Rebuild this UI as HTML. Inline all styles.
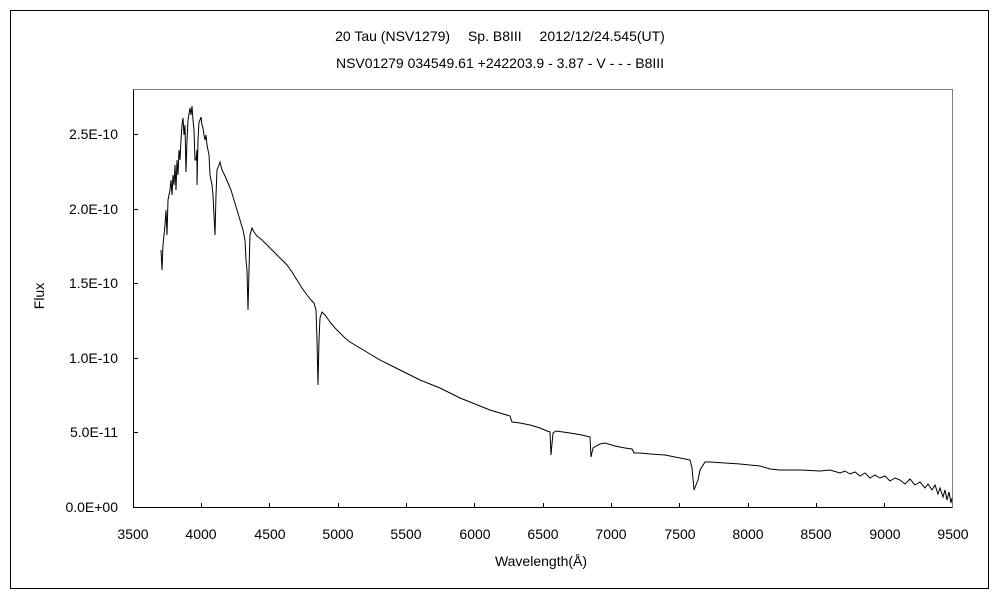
<!DOCTYPE html>
<html><head><meta charset="utf-8"><style>
html,body{margin:0;padding:0;background:#fff;}
svg{display:block;}
text{font-family:"Liberation Sans","Noto Sans CJK JP",sans-serif;font-size:14px;fill:#000;}
</style></head><body>
<svg width="1000" height="600" viewBox="0 0 1000 600">
<rect x="10.5" y="10.5" width="978" height="578" fill="none" stroke="#000" stroke-width="1"/>
<polyline points="133.5,89.5 952.5,89.5 952.5,507.5" fill="none" stroke="#808080" stroke-width="1"/>
<polyline points="133.5,89.5 133.5,507.5 952.5,507.5" fill="none" stroke="#000" stroke-width="1"/>
<g stroke="#000" stroke-width="1">
<line x1="133" y1="134.5" x2="138" y2="134.5"/>
<line x1="133" y1="209.5" x2="138" y2="209.5"/>
<line x1="133" y1="283.5" x2="138" y2="283.5"/>
<line x1="133" y1="358.5" x2="138" y2="358.5"/>
<line x1="133" y1="432.5" x2="138" y2="432.5"/>
<line x1="201.5" y1="503" x2="201.5" y2="507"/>
<line x1="269.5" y1="503" x2="269.5" y2="507"/>
<line x1="338.5" y1="503" x2="338.5" y2="507"/>
<line x1="406.5" y1="503" x2="406.5" y2="507"/>
<line x1="474.5" y1="503" x2="474.5" y2="507"/>
<line x1="543.5" y1="503" x2="543.5" y2="507"/>
<line x1="611.5" y1="503" x2="611.5" y2="507"/>
<line x1="679.5" y1="503" x2="679.5" y2="507"/>
<line x1="748.5" y1="503" x2="748.5" y2="507"/>
<line x1="816.5" y1="503" x2="816.5" y2="507"/>
<line x1="884.5" y1="503" x2="884.5" y2="507"/>
</g>
<g text-anchor="end">
<text x="118" y="139">2.5E-10</text>
<text x="118" y="214">2.0E-10</text>
<text x="118" y="288">1.5E-10</text>
<text x="118" y="363">1.0E-10</text>
<text x="118" y="437">5.0E-11</text>
<text x="118" y="512">0.0E+00</text>
</g>
<g text-anchor="middle">
<text x="133" y="539">3500</text><text x="201" y="539">4000</text><text x="270" y="539">4500</text>
<text x="338" y="539">5000</text><text x="406" y="539">5500</text><text x="475" y="539">6000</text>
<text x="543" y="539">6500</text><text x="611" y="539">7000</text><text x="680" y="539">7500</text>
<text x="748" y="539">8000</text><text x="816" y="539">8500</text><text x="885" y="539">9000</text>
<text x="953" y="539">9500</text>
<text x="541" y="566">Wavelength(Å)</text>
<text x="500" y="41">20 Tau (NSV1279)　 Sp. B8III　 2012/12/24.545(UT)</text>
<text x="500" y="68">NSV01279 034549.61 +242203.9 - 3.87 - V - - - B8III</text>
</g>
<text x="44" y="296" transform="rotate(-90 44 296)" text-anchor="middle">Flux</text>
<polyline fill="none" stroke="#000" stroke-width="1" points="
161,250 162,270 163,245 165,225 166,210 167,235 168,200 170,190 171,180 172,195 173,175 174,185 175,165 176,190 177,160 178,175 179,150 180,160 181,140 182,125 183,118 184,135 185,125 186,172 187,140 188,120 190,108 191,115 192,106 193,120 194,130 195,160 196,160 197,150 197,185 198,140 199,122 200,120 201,117 202,125 203,128 204,135 205,140 206,135 207,145 208,150 209,155 210,175 212,185 213,195 214,215 215,235 216,195 217,170 219,165 220,162 222,170 225,176 228,183 231,190 234,200 237,210 240,220 243,230 245,240 246,260 247,270 248,310 249,270 250,235 252,228 254,232 257,236 262,240 267,245 272,250 277,255 282,260 287,265 292,272 297,280 302,288 307,295 311,300 314,303 316,310 317,340 318,385 319,340 320,318 322,312 325,315 330,322 335,328 340,333 345,338 350,342 360,348 370,354 380,360 390,365 400,370 410,375 420,380 430,384 440,388 450,393 460,398 470,402 480,406 490,410 500,413 510,416 512,422 520,423 530,425 540,428 547,431 550,432 551,455 553,433 556,431 570,433 582,435 590,437 591,457 593,448 596,446 600,444 605,443 615,446 625,448 632,449 634,453 640,453 650,454 665,455 675,457 685,459 690,460 692,468 694,490 696,485 698,480 700,470 705,462 710,462 740,464 760,466 770,469 780,470 800,470 820,471 830,470 840,473 845,471 850,474 855,472 860,476 865,473 870,478 875,475 880,478 885,476 890,481 895,478 900,480 905,484 910,479 915,485 920,482 925,488 928,484 932,490 935,485 938,494 940,488 943,497 945,490 947,500 949,492 951,503 952,498"/>
</svg>
</body></html>
